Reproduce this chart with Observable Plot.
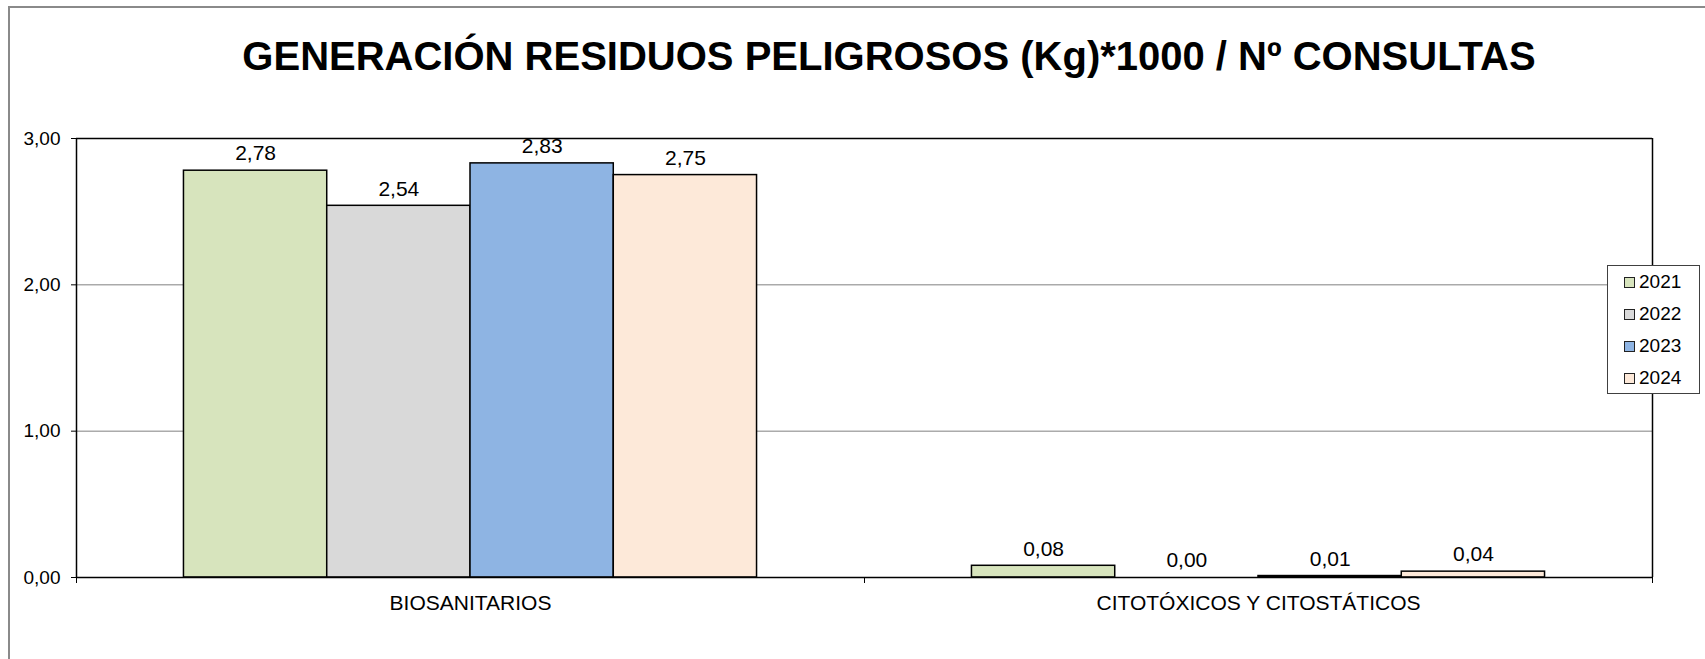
<!DOCTYPE html>
<html>
<head>
<meta charset="utf-8">
<script src="https://cdn.jsdelivr.net/npm/d3@7"></script>
<script src="https://cdn.jsdelivr.net/npm/@observablehq/plot@0.6"></script>
<style>
  html, body { margin: 0; padding: 0; background: #fff; }
  #wrap { position: relative; width: 1705px; height: 659px; overflow: hidden; background: #fff;
          font-family: "Liberation Sans", Arial, sans-serif; color: #000; }
  #title { box-sizing: border-box; width: 1705px; height: 100px; padding-top: 36px; padding-left: 73px;
           text-align: center; font-weight: bold; font-size: 40px; line-height: 40px; white-space: nowrap; }
  #border { position: absolute; left: 8px; top: 6px; right: -20px; bottom: -20px;
            border-left: 2px solid #8a8a8a; border-top: 2px solid #8a8a8a; pointer-events: none; }
  #legend { position: absolute; left: 1607px; top: 265px; width: 93px; height: 129px; box-sizing: border-box;
            border: 1px solid #404040; background: #fff; font-size: 19px; }
  #legend .row { height: 32px; line-height: 32px; padding-left: 16px; white-space: nowrap; }
  #legend .sw { display: inline-block; box-sizing: border-box; width: 11px; height: 11px; border: 1px solid #222;
                margin-right: 4px; vertical-align: 0px; }
</style>
</head>
<body>
<div id="wrap">
  <div id="title">GENERACIÓN RESIDUOS PELIGROSOS (Kg)*1000 / Nº CONSULTAS</div>
  <div id="plot"></div>
  <div id="legend"></div>
  <div id="border"></div>
</div>
<script>
// ---- data ----
const categories = ["BIOSANITARIOS", "CITOTÓXICOS Y CITOSTÁTICOS"];
const years = ["2021", "2022", "2023", "2024"];
const biosanitarios = [2.78, 2.54, 2.83, 2.75];
const citotoxicos = [0.08, 0.00, 0.01, 0.04];
const colors = ["#d7e4bd", "#d9d9d9", "#8eb4e3", "#fde9d9"];
const yTicks = [0, 1, 2, 3];

const seriesByCategory = [biosanitarios, citotoxicos];
const rows = categories.flatMap((cat, c) =>
  years.map((year, i) => ({cat, year, i, value: seriesByCategory[c][i]})));

const fmt = v => v.toFixed(2).replace(".", ",");
const groupPad = 0.75;
const xDomain = [-groupPad, years.length + groupPad];
const edges = [
  {cat: categories[0], x: xDomain[0]},
  {cat: categories[categories.length - 1], x: xDomain[1]}
];

const chart = Plot.plot({
  width: 1705,
  height: 559,
  marginLeft: 76,
  marginRight: 53,
  marginTop: 38,
  marginBottom: 82,
  style: {fontFamily: "'Liberation Sans', Arial, sans-serif", fontSize: "19px", color: "#000", background: "transparent"},
  fx: {domain: categories, padding: 0, label: null},
  x: {domain: xDomain, label: null},
  y: {domain: [yTicks[0], yTicks[yTicks.length - 1]], label: null},
  color: {domain: years, range: colors},
  marks: [
    Plot.gridY(yTicks.slice(1, -1), {stroke: "#808080", strokeOpacity: 1, strokeWidth: 1}),
    Plot.rect(rows, {fx: "cat", x1: "i", x2: d => d.i + 1, y1: 0, y2: "value",
                     fill: "year", stroke: "#000", strokeWidth: 1.5}),
    Plot.ruleY([yTicks[0], yTicks[yTicks.length - 1]], {stroke: "#000", strokeWidth: 1.5}),
    Plot.ruleX(edges, {fx: "cat", x: "x", y1: yTicks[0], y2: yTicks[yTicks.length - 1], stroke: "#000", strokeWidth: 1.5}),
    Plot.axisX({ticks: xDomain, tickSize: 6, tickFormat: () => "", label: null, stroke: "#000"}),
    Plot.axisY({ticks: yTicks, tickSize: 5, tickPadding: 11, tickFormat: fmt, label: null, stroke: "#000"}),
    Plot.axisFx({anchor: "bottom", tickSize: 0, tickPadding: 18, fontSize: 21, label: null}),
    Plot.text(rows, {fx: "cat", x: d => d.i + 0.5, y: "value", text: d => fmt(d.value),
                     dy: -17, lineAnchor: "middle", fontSize: 21, fill: "#000"})
  ]
});
document.getElementById("plot").appendChild(chart);

// legend
const legend = document.getElementById("legend");
years.forEach((y, i) => {
  const row = document.createElement("div");
  row.className = "row";
  const sw = document.createElement("span");
  sw.className = "sw";
  sw.style.background = colors[i];
  row.appendChild(sw);
  row.appendChild(document.createTextNode(y));
  legend.appendChild(row);
});
</script>
</body>
</html>
